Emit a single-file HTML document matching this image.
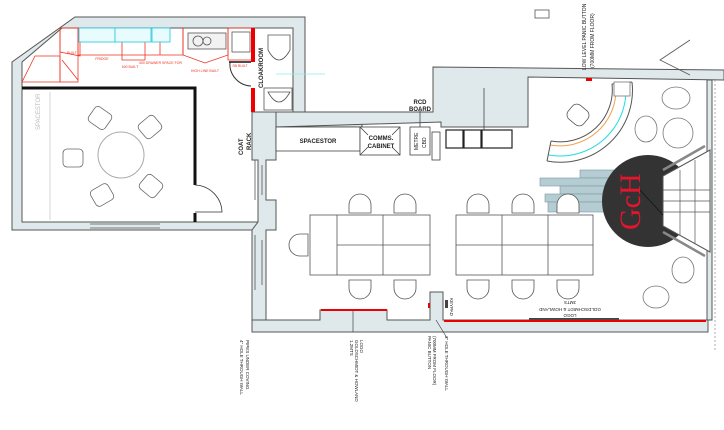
<!DOCTYPE html>
<html><head><meta charset="utf-8"><style>
html,body{margin:0;padding:0;background:#fff;}
svg{display:block;font-family:"Liberation Sans",sans-serif;}
</style></head><body>
<svg width="724" height="430" viewBox="0 0 724 430" xmlns="http://www.w3.org/2000/svg">
<defs><path id="ct" d="M-11,10 L-11,2 A11,11 0 0 1 11,2 L11,10 Z"/></defs>
<g fill="#dfe9eb" stroke="#555" stroke-width="1">
 <path d="M75,17 L305,17 L305,117 L362,117 L362,127 L293,127 L293,28 L62,28 L22,62 L22,222 L266,222 L266,230 L12,230 L12,62 Z"/>
 <path d="M276,112 L433,112 L433,67 L724,70 L724,80 L528,77 L528,127 L441,127 L441,122 L276,127 Z"/>
 <path d="M252,112 L276,112 L276,160 L266,160 L266,200 L276,200 L276,230 L266,230 L266,320 L252,320 L252,230 L258,222 L258,160 L252,160 Z"/>
 <path d="M252,320 L320,320 L320,310 L387,310 L387,320 L430,320 L430,292 L443,292 L443,320 L708,320 L708,332 L266,332 L252,332 Z"/>
 <path d="M707,80 L712,80 L712,320 L707,320 Z"/>
</g>
<g stroke="#555" stroke-width="0.8" fill="none">
 <line x1="255" y1="160" x2="255" y2="200"/><line x1="262" y1="165" x2="262" y2="195"/>
 <line x1="255" y1="235" x2="255" y2="290"/><line x1="262" y1="240" x2="262" y2="285"/>
 <line x1="90" y1="224" x2="160" y2="224"/><line x1="90" y1="228" x2="160" y2="228"/>
 <line x1="715" y1="80" x2="715" y2="350" stroke="#999" stroke-dasharray="2,2"/>
 <path d="M690,40 L660,60 L690,75"/>
</g>
<g stroke="#e32" stroke-width="0.8" fill="none">
 <path d="M22,82 L60,82 L60,56 L35,56 Z"/>
 <rect x="60" y="28" width="18" height="54"/>
 <path d="M60,28 L60,52 L80,56 L80,28"/>
 <line x1="62" y1="60" x2="78" y2="80"/>
 <path d="M78,28 L78,55 L183,55 L183,28"/>
 <path d="M122,28 L122,60 L145,60 L145,28"/>
 <path d="M160,28 L160,55 M183,28 L183,55"/>
 <path d="M183,28 L183,55 L205,63 L228,55 L228,28"/>
 <rect x="228" y="28" width="24" height="32"/>
</g>
<g stroke="#22c8e0" stroke-width="0.8" fill="#e8fbfd">
 <rect x="79" y="28" width="36" height="14"/><rect x="115" y="28" width="36" height="14"/><rect x="152" y="28" width="18" height="14"/>
</g>
<g fill="#e32" font-size="3.5" text-anchor="middle">
 <text x="102" y="60">FRIDGE</text><text x="130" y="68">600 BUILT</text><text x="150" y="64">400 DRAWER</text><text x="172" y="64">SPACE FOR</text><text x="205" y="72">HIGH LINE BUILT</text><text x="240" y="67">SB BUILT</text><text x="72" y="54">BUILT</text>
</g>
<g stroke="#555" stroke-width="0.8" fill="#f2f2f2">
 <rect x="188" y="33" width="38" height="16"/><circle cx="198" cy="41" r="5" fill="none"/><circle cx="207" cy="41" r="4" fill="none"/>
 <rect x="232" y="32" width="18" height="20" fill="#fff"/>
</g>
<g fill="#e00"><rect x="251" y="28" width="4" height="34"/><rect x="251" y="88" width="4" height="24"/></g>
<path d="M230,62 A22,22 0 0 0 251,86" stroke="#333" stroke-width="1" fill="none"/>
<line x1="229" y1="62" x2="251" y2="62" stroke="#111" stroke-width="1.5"/>
<g stroke="#555" stroke-width="0.8" fill="none">
 <path d="M268,35 L290,35 L290,50 Q279,70 268,50 Z"/>
 <rect x="264" y="88" width="28" height="22"/><path d="M268,92 Q279,112 290,92 Z"/>
 <line x1="276" y1="74" x2="325" y2="74" stroke="#8ee" />
</g>
<text transform="translate(263,88) rotate(-90)" font-size="6" font-weight="bold" fill="#222">CLOAKROOM</text>
<text transform="translate(243,155) rotate(-90)" font-size="6" font-weight="bold" fill="#222">COAT</text>
<text transform="translate(251,150) rotate(-90)" font-size="6" font-weight="bold" fill="#222">RACK</text>
<path d="M22,88 L195,88 L195,185 M195,213 L195,222" stroke="#111" stroke-width="3" fill="none"/>
<path d="M195,185 A28,28 0 0 1 222,212 L195,212" stroke="#333" stroke-width="0.8" fill="none"/>
<line x1="50" y1="92" x2="50" y2="220" stroke="#ccc" stroke-width="0.8"/>
<text transform="translate(40,130) rotate(-90)" font-size="6" fill="#bbb">SPACESTOR</text>
<circle cx="121" cy="155" r="23" fill="none" stroke="#aaa" stroke-width="1"/>
<g stroke="#666" stroke-width="0.8" fill="#fff">
 <rect x="-10" y="-9" width="20" height="18" rx="4" transform="translate(100,118) rotate(35)"/>
 <rect x="-10" y="-9" width="20" height="18" rx="4" transform="translate(150,127) rotate(-40)"/>
 <rect x="-10" y="-9" width="20" height="18" rx="4" transform="translate(73,158)"/>
 <rect x="-10" y="-9" width="20" height="18" rx="4" transform="translate(102,195) rotate(-30)"/>
 <rect x="-10" y="-9" width="20" height="18" rx="4" transform="translate(151,186) rotate(40)"/>
</g>
<g stroke="#444" stroke-width="0.8" fill="#fff">
 <rect x="276" y="127" width="84" height="24"/>
 <rect x="360" y="127" width="40" height="28"/>
 <path d="M360,127 L368,135 M400,127 L392,135 M360,155 L368,147 M400,155 L392,147"/>
 <rect x="410" y="127" width="20" height="28"/>
 <rect x="432" y="132" width="8" height="28"/>
</g>
<g stroke="#222" stroke-width="1.2" fill="#fff">
 <rect x="446" y="130" width="17" height="18"/><rect x="464" y="130" width="17" height="18"/><rect x="482" y="130" width="30" height="18"/>
</g>
<line x1="484" y1="88" x2="484" y2="130" stroke="#444" stroke-width="0.8"/>
<line x1="420" y1="110" x2="420" y2="127" stroke="#444" stroke-width="0.8"/>
<g font-size="6" fill="#222" text-anchor="middle" font-weight="bold">
 <text x="318" y="143">SPACESTOR</text><text x="381" y="140">COMMS.</text><text x="381" y="148">CABINET</text>
 <text x="420" y="104">RCD</text><text x="420" y="111">BOARD</text>
</g>
<text transform="translate(418,150) rotate(-90)" font-size="5" fill="#222">METRE</text>
<text transform="translate(426,148) rotate(-90)" font-size="5" fill="#222">CBD</text>
<rect x="535" y="10" width="14" height="8" fill="none" stroke="#555" stroke-width="0.8"/>
<text transform="translate(586,70) rotate(-90)" font-size="5" fill="#222">LOW LEVEL PANIC BUTTON</text>
<text transform="translate(594,68) rotate(-90)" font-size="5" fill="#222">(700MM FROM FLOOR)</text>
<rect x="586" y="78" width="6" height="3" fill="#e00"/>
<!-- reception desk -->
<g fill="none" stroke-width="1">
 <path d="M547,161 A72,72 0 0 0 632,82" stroke="#555"/>
 <path d="M548.5,155 A66,66 0 0 0 625.6,82.5" stroke="#2dd"/>
 <path d="M551,141 A52,52 0 0 0 612,84" stroke="#555"/>
 <path d="M550,145 A56,56 0 0 0 615.6,83.6" stroke="#f0a050"/>
 <path d="M547,161 L551,141 M632,82 L612,84" stroke="#555"/>
</g>
<rect x="614" y="82" width="16" height="14" fill="#fff" stroke="#777" stroke-width="0.8"/>
<rect x="-10" y="-9" width="20" height="18" rx="6" transform="translate(578,115) rotate(40)" fill="#fff" stroke="#555" stroke-width="0.8"/>
<g fill="#fff" stroke="#777" stroke-width="0.8">
 <ellipse cx="676" cy="98" rx="14" ry="11"/><ellipse cx="646" cy="129" rx="11" ry="13"/><circle cx="678" cy="133" r="15"/>
 <ellipse cx="683" cy="270" rx="11" ry="13"/><ellipse cx="656" cy="297" rx="13" ry="11"/>
</g>
<g fill="#b5ccd2" stroke="#7a9aa4" stroke-width="0.6">
 <rect x="580" y="170" width="40" height="8"/><rect x="540" y="178" width="80" height="8"/><rect x="560" y="186" width="60" height="8"/>
 <rect x="545" y="194" width="75" height="8"/><rect x="548" y="202" width="72" height="10"/>
</g>
<circle cx="648" cy="201" r="46" fill="#333"/>
<text transform="translate(640,230) rotate(-90)" font-size="30" fill="#e8142c" font-family="Liberation Serif,serif">GcH</text>
<polygon points="663,176 710,150 710,252 663,226" fill="#fff" stroke="#555" stroke-width="1"/>
<g stroke="#555" stroke-width="0.7" fill="none">
 <line x1="680" y1="170" x2="680" y2="236"/><line x1="695" y1="160" x2="695" y2="244"/>
 <line x1="663" y1="190" x2="710" y2="190"/><line x1="663" y1="201" x2="710" y2="201"/><line x1="663" y1="212" x2="710" y2="212"/>
 <line x1="640" y1="190" x2="663" y2="215" stroke="#111"/>
 <path d="M663,170 L705,146 M663,232 L705,256" stroke-width="2.5" stroke="#888"/>
</g>
<g fill="#fff" stroke="#555" stroke-width="0.8">
 <rect x="310" y="215" width="120" height="60"/><line x1="337" y1="215" x2="337" y2="275"/><line x1="383" y1="215" x2="383" y2="275"/><line x1="337" y1="245" x2="430" y2="245"/>
 <rect x="456" y="215" width="137" height="60"/><line x1="502" y1="215" x2="502" y2="275"/><line x1="548" y1="215" x2="548" y2="275"/><line x1="456" y1="245" x2="593" y2="245"/>
</g>
<g fill="#fff" stroke="#555" stroke-width="0.8">
 <use href="#ct" x="360" y="203"/><use href="#ct" x="405" y="203"/><use href="#ct" x="478" y="203"/><use href="#ct" x="523" y="203"/><use href="#ct" x="568" y="203"/>
 <path d="M349,280 L349,288 A11,11 0 0 0 371,288 L371,280 Z"/><path d="M394,280 L394,288 A11,11 0 0 0 416,288 L416,280 Z"/>
 <path d="M467,280 L467,288 A11,11 0 0 0 489,288 L489,280 Z"/><path d="M512,280 L512,288 A11,11 0 0 0 534,288 L534,280 Z"/><path d="M557,280 L557,288 A11,11 0 0 0 579,288 L579,280 Z"/>
 <path d="M308,234 L300,234 A11,11 0 0 0 300,256 L308,256 Z"/>
</g>
<rect x="321" y="309" width="66" height="2" fill="#e00"/>
<rect x="444" y="320" width="262" height="2" fill="#e00"/>
<rect x="529" y="318" width="90" height="1.5" fill="#444"/>
<rect x="428" y="303" width="2" height="5" fill="#e00"/>
<rect x="445" y="300" width="3" height="8" fill="#444"/>
<line x1="353" y1="311" x2="353" y2="332" stroke="#444" stroke-width="0.7"/>
<line x1="436" y1="320" x2="447" y2="338" stroke="#444" stroke-width="0.7"/>
<g font-size="4.5" fill="#222">
 <text transform="translate(240,340) rotate(90)">4" HOLE THROUGH WALL</text>
 <text transform="translate(246,340) rotate(90)">PIPES UNDER COVING</text>
 <text transform="translate(350,340) rotate(90)">1.2MTS</text>
 <text transform="translate(355,340) rotate(90)">GOLDSCHMIDT &amp; HOWLAND</text>
 <text transform="translate(360,340) rotate(90)">LOGO</text>
 <text transform="translate(428,336) rotate(90)">PANIC BUTTON</text>
 <text transform="translate(433,336) rotate(90)">(700MM FROM FLOOR)</text>
 <text transform="translate(445,336) rotate(90)">3" HOLE THROUGH WALL</text>
 <text transform="translate(450,298) rotate(90)">KEYPAD</text>
 <text transform="translate(570,301) rotate(180)" text-anchor="middle">3MTS</text>
 <text transform="translate(570,308) rotate(180)" text-anchor="middle">GOLDSCHMIDT &amp; HOWLAND</text>
 <text transform="translate(570,314) rotate(180)" text-anchor="middle">LOGO</text>
</g>
</svg>
</body></html>
